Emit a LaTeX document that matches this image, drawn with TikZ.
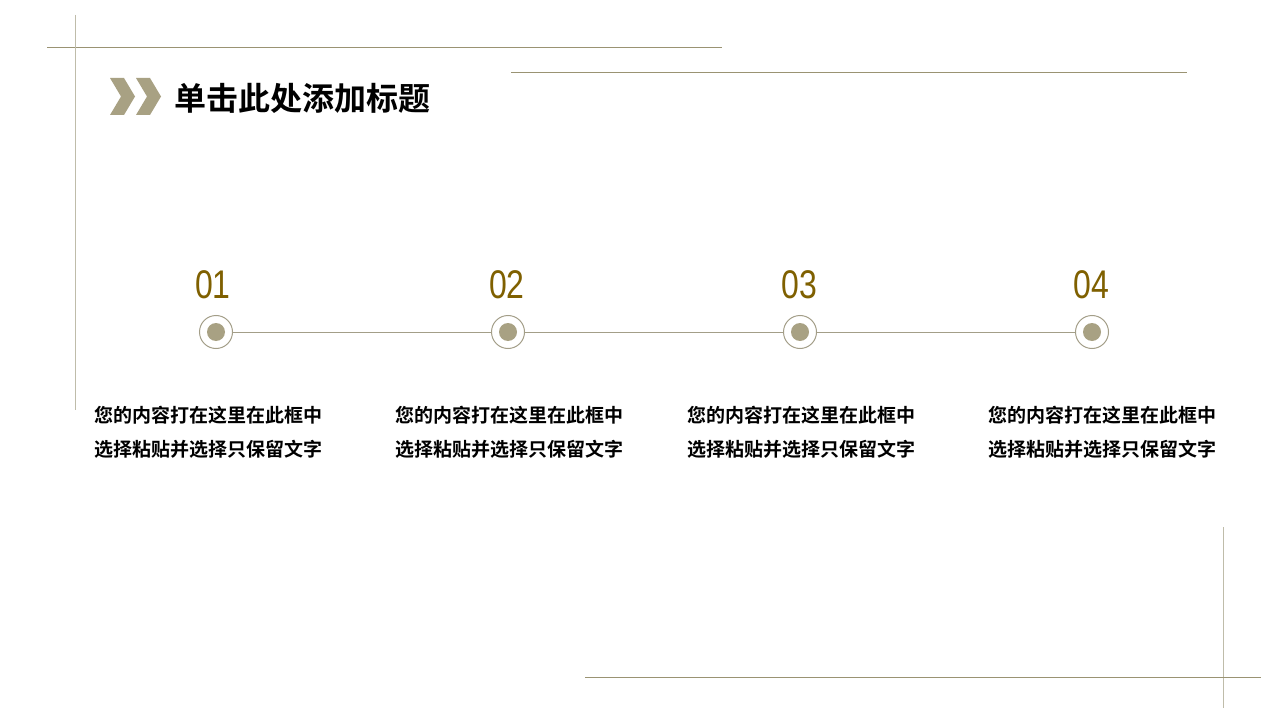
\documentclass[tikz,border=0pt]{standalone}
\usepackage{fontspec}
\setmainfont{Liberation Sans}
\newfontfamily\cjk{Noto Sans CJK SC}[BoldFont={Noto Sans CJK SC Bold}]
\newfontfamily\numfont{Liberation Sans}
\definecolor{olive}{HTML}{9A9373}
\definecolor{vline}{HTML}{BFBCAA}
\definecolor{chev}{HTML}{A8A183}
\definecolor{gold}{HTML}{7F6000}
\definecolor{ring}{HTML}{A39E88}
\tikzset{
  frameh/.style={draw=olive, line width=1bp},
  framev/.style={draw=vline, line width=1bp},
  ringnode/.style={circle, draw=ring, line width=1bp, minimum size=33bp, inner sep=0pt},
  dotnode/.style={circle, fill=chev, minimum size=18bp, inner sep=0pt},
  numlabel/.style={text=gold, inner sep=0pt, font=\numfont\fontsize{40bp}{40bp}\selectfont},
  bodytext/.style={anchor=west, inner sep=0pt, text=black, font=\cjk\bfseries\fontsize{19bp}{22bp}\selectfont},
  link/.style={draw=ring, line width=1bp}
}
\begin{document}
\begin{tikzpicture}[x=1bp, y=-1bp]
\useasboundingbox (0,0) rectangle (1280,720);
\fill[white] (0,0) rectangle (1280,720);
% frame lines
\draw[frameh] (47,47.5) -- (722,47.5);
\draw[framev] (75,15) -- (75,410);
\draw[frameh] (511,72.5) -- (1187,72.5);
\draw[framev] (1223,527) -- (1223,708);
\draw[frameh] (585,677.5) -- (1261,677.5);
% chevrons
\fill[chev] (110,78) -- (124,78) -- (135,96.5) -- (124,115) -- (110,115) -- (121,96.5) -- cycle;
\fill[chev] (136,78) -- (150,78) -- (161,96.5) -- (150,115) -- (136,115) -- (147,96.5) -- cycle;
% title
\node[anchor=west, inner sep=0pt, font=\cjk\bfseries\fontsize{32bp}{35bp}\selectfont] (title) at (174,98) {单击此处添加标题};
% timeline circles
\node[ringnode] (c1) at (216,332) {};
\node[ringnode] (c2) at (508,332) {};
\node[ringnode] (c3) at (800,332) {};
\node[ringnode] (c4) at (1092,332) {};
\node[dotnode] (d1) at (c1) {};
\node[dotnode] (d2) at (c2) {};
\node[dotnode] (d3) at (c3) {};
\node[dotnode] (d4) at (c4) {};
\draw[link] (c1) -- (c2);
\draw[link] (c2) -- (c3);
\draw[link] (c3) -- (c4);
% numbers
\node[numlabel] (n1) at (213,285) {\scalebox{0.8}[1]{01}};
\node[numlabel] (n2) at (507,285) {\scalebox{0.8}[1]{02}};
\node[numlabel] (n3) at (799,285) {\scalebox{0.8}[1]{03}};
\node[numlabel] (n4) at (1091,285) {\scalebox{0.8}[1]{04}};
% body texts
\node[bodytext] (t1a) at (94,415) {您的内容打在这里在此框中};
\node[bodytext] (t1b) at (94,449) {选择粘贴并选择只保留文字};
\node[bodytext] (t2a) at (395,415) {您的内容打在这里在此框中};
\node[bodytext] (t2b) at (395,449) {选择粘贴并选择只保留文字};
\node[bodytext] (t3a) at (687,415) {您的内容打在这里在此框中};
\node[bodytext] (t3b) at (687,449) {选择粘贴并选择只保留文字};
\node[bodytext] (t4a) at (988,415) {您的内容打在这里在此框中};
\node[bodytext] (t4b) at (988,449) {选择粘贴并选择只保留文字};
\end{tikzpicture}
\end{document}
